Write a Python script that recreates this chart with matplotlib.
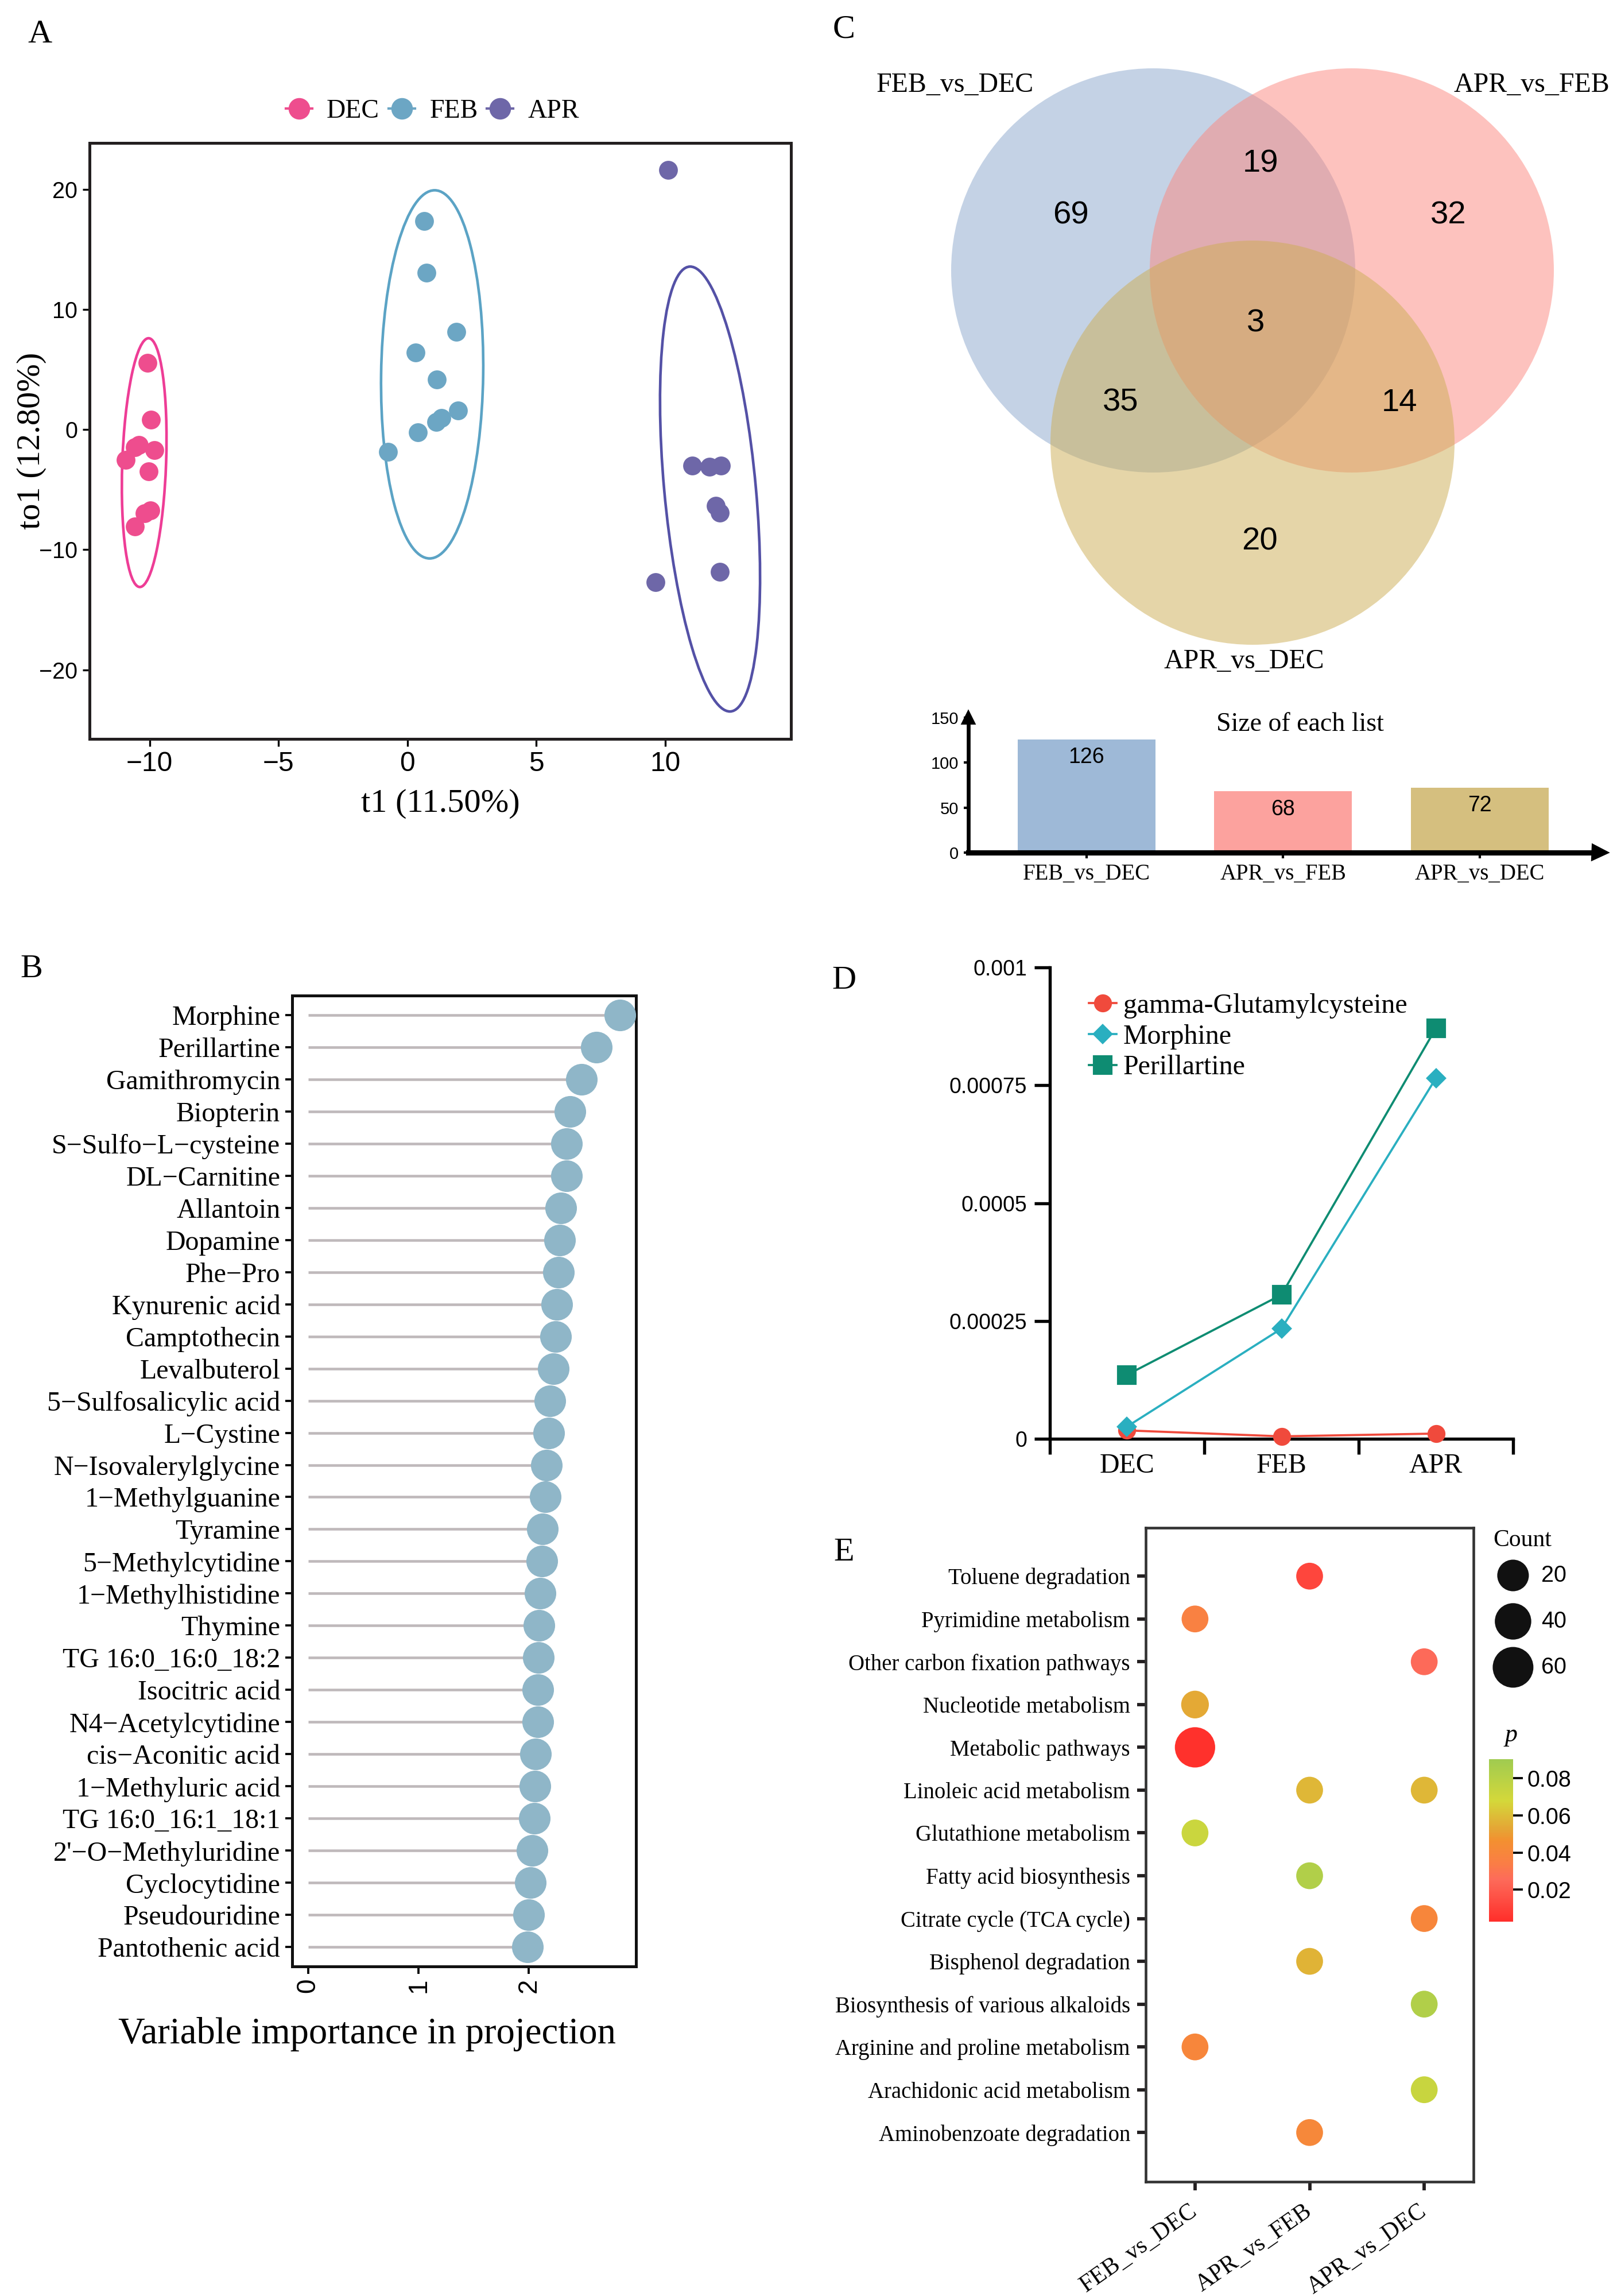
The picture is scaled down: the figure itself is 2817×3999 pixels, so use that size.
import numpy as np
import matplotlib
matplotlib.use('Agg')
import matplotlib.pyplot as plt
from matplotlib.patches import Ellipse, Circle
from matplotlib.lines import Line2D
from matplotlib.colors import LinearSegmentedColormap, Normalize
from matplotlib.cm import ScalarMappable

plt.rcParams['font.family'] = 'Liberation Serif'
SANS = 'Liberation Sans'

# ---------------- data ----------------
# A: OPLS-DA scores
dec_t1 = [-10.08, -9.94, -10.42, -10.58, -9.82, -10.92, -10.04, -9.98, -10.2, -10.56]
dec_to1 = [5.56, 0.83, -1.26, -1.46, -1.70, -2.52, -3.47, -6.71, -6.98, -8.09]
feb_t1 = [0.66, 0.74, 1.89, 0.32, 1.14, 1.97, 1.31, 1.12, 0.40, -0.76]
feb_to1 = [17.36, 13.06, 8.13, 6.43, 4.18, 1.58, 0.99, 0.63, -0.24, -1.85]
apr_t1 = [10.12, 11.06, 11.71, 12.17, 11.97, 12.11, 12.11, 9.62]
apr_to1 = [21.6, -3.0, -3.08, -3.0, -6.35, -6.94, -11.87, -12.70]
groups = ['DEC', 'FEB', 'APR']
group_colors = ['#EE4D8E', '#6CA6C4', '#6E67A8']
ellipse_colors = ['#EE3D96', '#5BA3C5', '#5451A6']
# confidence ellipses (centre, semi-axes, tilt in degrees)
ell_cx = [-10.21, 0.96, 11.74]
ell_cy = [-2.75, 4.6, -4.95]
ell_a = [10.36, 15.33, 18.54]
ell_b = [0.85, 1.98, 1.78]
ell_tilt = [-0.94, -0.37, 2.4]

# B: VIP
vip_names = ['Morphine', 'Perillartine', 'Gamithromycin', 'Biopterin', 'S\u2212Sulfo\u2212L\u2212cysteine',
             'DL\u2212Carnitine', 'Allantoin', 'Dopamine', 'Phe\u2212Pro', 'Kynurenic acid', 'Camptothecin',
             'Levalbuterol', '5\u2212Sulfosalicylic acid', 'L\u2212Cystine', 'N\u2212Isovalerylglycine',
             '1\u2212Methylguanine', 'Tyramine', '5\u2212Methylcytidine', '1\u2212Methylhistidine', 'Thymine',
             'TG 16:0_16:0_18:2', 'Isocitric acid', 'N4\u2212Acetylcytidine', 'cis\u2212Aconitic acid',
             '1\u2212Methyluric acid', 'TG 16:0_16:1_18:1', "2'\u2212O\u2212Methyluridine", 'Cyclocytidine',
             'Pseudouridine', 'Pantothenic acid']
vip_values = [2.825, 2.61, 2.475, 2.37, 2.34, 2.34, 2.29, 2.28, 2.27, 2.255, 2.24, 2.22, 2.19, 2.18, 2.16,
              2.15, 2.125, 2.12, 2.10, 2.09, 2.085, 2.08, 2.08, 2.06, 2.057, 2.05, 2.027, 2.015, 2.0, 1.99]

# C: Venn + list sizes
venn_sets = ['FEB_vs_DEC', 'APR_vs_FEB', 'APR_vs_DEC']
venn_regions = ['69', '19', '32', '3', '35', '14', '20']
list_sizes = [126, 68, 72]
list_colors = ['#9EB9D7', '#FCA29E', '#D5BF7F']

# D: relative abundance
months = ['DEC', 'FEB', 'APR']
gamma_glu = [0.0000178, 0.0000052, 0.0000111]
morphine = [0.000026, 0.0002337, 0.000765]
perillartine = [0.0001358, 0.0003056, 0.000871]

# E: KEGG enrichment
pathways = ['Toluene degradation', 'Pyrimidine metabolism', 'Other carbon fixation pathways',
            'Nucleotide metabolism', 'Metabolic pathways', 'Linoleic acid metabolism',
            'Glutathione metabolism', 'Fatty acid biosynthesis', 'Citrate cycle (TCA cycle)',
            'Bisphenol degradation', 'Biosynthesis of various alkaloids', 'Arginine and proline metabolism',
            'Arachidonic acid metabolism', 'Aminobenzoate degradation']
comparisons = ['FEB_vs_DEC', 'APR_vs_FEB', 'APR_vs_DEC']
enr_pathway = ['Toluene degradation', 'Pyrimidine metabolism', 'Other carbon fixation pathways',
               'Nucleotide metabolism', 'Metabolic pathways', 'Linoleic acid metabolism',
               'Linoleic acid metabolism', 'Glutathione metabolism', 'Fatty acid biosynthesis',
               'Citrate cycle (TCA cycle)', 'Bisphenol degradation', 'Biosynthesis of various alkaloids',
               'Arginine and proline metabolism', 'Arachidonic acid metabolism', 'Aminobenzoate degradation']
enr_group = ['APR_vs_FEB', 'FEB_vs_DEC', 'APR_vs_DEC', 'FEB_vs_DEC', 'FEB_vs_DEC', 'APR_vs_FEB',
             'APR_vs_DEC', 'FEB_vs_DEC', 'APR_vs_FEB', 'APR_vs_DEC', 'APR_vs_FEB', 'APR_vs_DEC',
             'FEB_vs_DEC', 'APR_vs_DEC', 'APR_vs_FEB']
enr_count = [3, 3, 3, 6, 58, 3, 3, 3, 3, 3, 3, 3, 3, 3, 3]
enr_p = [0.012, 0.036, 0.025, 0.054, 0.004, 0.058, 0.058, 0.072, 0.083, 0.040, 0.057, 0.083, 0.040,
         0.073, 0.041]
count_breaks = [20, 40, 60]

# ---------------- layout helpers ----------------
W, H = 2817, 3999
fig = plt.figure(figsize=(W / 300, H / 300), dpi=300)
fig.patch.set_facecolor('white')


def box(l, t, r, b):
    return [l / W, 1 - b / H, (r - l) / W, (b - t) / H]


def ftext(x, y, s, **kw):
    fig.text(x / W, 1 - y / H, s, **kw)


def dot_size(c):
    # area grows linearly with count
    d_px = np.sqrt(2030 + 50 * np.asarray(c, dtype=float))
    return (d_px * 72 / 300) ** 2


# ---------------- panel A ----------------
axA = fig.add_axes(box(156, 249, 1378, 1287))
xs = [dec_t1, feb_t1, apr_t1]
ys = [dec_to1, feb_to1, apr_to1]
for i in range(3):
    e = Ellipse((ell_cx[i], ell_cy[i]), 2 * ell_b[i], 2 * ell_a[i], angle=ell_tilt[i],
                fill=False, ec=ellipse_colors[i], lw=1.1, zorder=2)
    axA.add_patch(e)
    axA.scatter(xs[i], ys[i], s=62, color=group_colors[i], zorder=3, lw=0)
axA.set_xlim(-12.33, 14.88)
axA.set_ylim(-25.76, 23.87)
axA.set_xticks([-10, -5, 0, 5, 10])
axA.set_yticks([-20, -10, 0, 10, 20])
for lab in axA.get_xticklabels():
    lab.set_fontfamily(SANS)
    lab.set_fontsize(11.5)
for lab in axA.get_yticklabels():
    lab.set_fontfamily(SANS)
    lab.set_fontsize(9.5)
axA.tick_params(length=3, width=0.8, pad=2)
for sp in axA.spines.values():
    sp.set_linewidth(1.2)
    sp.set_color('#231F20')
axA.set_xlabel('t1 (11.50%)', fontsize=14, labelpad=5)
axA.set_ylabel('to1 (12.80%)', fontsize=14, labelpad=-3)
handles = [Line2D([0], [0], color=c, marker='o', markersize=8, lw=1) for c in group_colors]
axA.legend(handles, groups, loc='lower center', bbox_to_anchor=(0.489, 1.0), ncol=3, frameon=False,
           fontsize=11, handlelength=1.0, handletextpad=0.55, columnspacing=0.35, borderaxespad=0.35)

# ---------------- panel B ----------------
axB = fig.add_axes(box(509, 1734, 1108, 3425))
ypos = np.arange(len(vip_names))
axB.hlines(ypos, 0, vip_values, colors='#BFB9BB', lw=1.1, zorder=1)
axB.scatter(vip_values, ypos, s=175, color='#8FB6C8', lw=0, zorder=3, clip_on=False)
axB.set_xlim(-0.144, 2.97)
axB.set_ylim(len(vip_names) - 0.4, -0.6)
axB.set_yticks(ypos)
axB.set_yticklabels(vip_names, fontsize=11.5)
axB.set_xticks([0, 1, 2])
axB.set_xticklabels(['0', '1', '2'], rotation=90, fontfamily=SANS, fontsize=11)
axB.tick_params(length=3, width=0.9, pad=2)
for sp in axB.spines.values():
    sp.set_linewidth(1.2)
    sp.set_color('#111111')
ftext(640, 3543, 'Variable importance in projection', fontsize=15.5, ha='center', va='center')

# ---------------- panel C: Venn ----------------
vax = fig.add_axes(box(1600, 100, 2817, 1180))
vax.set_xlim(1600, 2817)
vax.set_ylim(1180, 100)
vax.axis('off')
venn_centers = [(2009, 471), (2355, 471), (2182, 771)]
venn_colors = ['#8BA7CD', '#FD877F', '#CDAD53']
venn_alpha = [0.5, 0.5, 0.5]
for c, col, al in zip(venn_centers, venn_colors, venn_alpha):
    vax.add_patch(Circle(c, 352, fc=col, ec='none', alpha=al))
region_pos = [(1865, 375), (2196, 285), (2523, 375), (2188, 563), (1952, 702), (2438, 702), (2194, 943)]
for s, p in zip(venn_regions, region_pos):
    vax.text(p[0], p[1], s, ha='center', va='center', fontsize=13.5, fontfamily=SANS)
set_pos = [(1664, 148), (2668, 148), (2167, 1152)]
for s, p in zip(venn_sets, set_pos):
    vax.text(p[0], p[1], s, ha='center', va='center', fontsize=11.5)

# size of each list
bax = fig.add_axes(box(1687, 1250, 2787, 1485))
bx = np.arange(len(list_sizes))
bax.bar(bx, list_sizes, width=0.7, color=list_colors)
for i, v in enumerate(list_sizes):
    bax.annotate(str(v), (i, v), xytext=(0, -7.5), textcoords='offset points', ha='center', va='center',
                 fontsize=9, fontfamily=SANS)
bax.set_xlim(-0.6, 2.61)
bax.set_ylim(0, 150)
bax.set_yticks([0, 50, 100, 150])
bax.set_yticklabels(['0', '50', '100', '150'], fontfamily=SANS, fontsize=7)
bax.set_xticks(bx)
bax.set_xticklabels(venn_sets, fontsize=9.3)
bax.tick_params(axis='y', length=2, width=1, pad=2)
bax.tick_params(axis='x', length=2.5, width=1, pad=2)
bax.spines['top'].set_visible(False)
bax.spines['right'].set_visible(False)
bax.spines['left'].set_linewidth(1.6)
bax.spines['bottom'].set_linewidth(2.2)
bax.plot(1, 0, '>', color='k', ms=6, transform=bax.transAxes, clip_on=False)
bax.plot(0, 1, '^', color='k', ms=5, transform=bax.transAxes, clip_on=False)
bax.set_facecolor('none')
ftext(2265, 1262, 'Size of each list', fontsize=11, ha='center', va='center')

# ---------------- panel D ----------------
axD = fig.add_axes(box(1829, 1685, 2636, 2506))
mx = np.arange(len(months))
axD.plot(mx, gamma_glu, color='#F04A3C', marker='o', ms=6.5, lw=0.9, clip_on=False,
         label='gamma-Glutamylcysteine', zorder=3)
axD.plot(mx, morphine, color='#2AAFC0', marker='D', ms=5, lw=0.9, clip_on=False, label='Morphine', zorder=3)
axD.plot(mx, perillartine, color='#0E8C72', marker='s', ms=7, lw=0.9, clip_on=False,
         label='Perillartine', zorder=3)
axD.set_xlim(-0.5, 2.5)
axD.set_ylim(0, 0.001)
axD.set_yticks([0, 0.00025, 0.0005, 0.00075, 0.001])
axD.set_yticklabels(['0', '0.00025', '0.0005', '0.00075', '0.001'], fontfamily=SANS, fontsize=9)
axD.set_xticks([-0.5, 0.5, 1.5, 2.5])
axD.set_xticklabels([])
axD.set_xticks(mx, minor=True)
axD.set_xticklabels(months, minor=True, fontsize=11.5)
axD.tick_params(axis='x', which='minor', length=0, pad=6)
axD.tick_params(axis='both', which='major', length=6.5, width=1.3, pad=3)
axD.spines['top'].set_visible(False)
axD.spines['right'].set_visible(False)
axD.spines['left'].set_linewidth(1.3)
axD.spines['bottom'].set_linewidth(1.3)
axD.legend(loc='upper left', bbox_to_anchor=(0.084, 0.945), frameon=False, fontsize=11.5,
           handlelength=1.0, handletextpad=0.25, labelspacing=0.2, borderaxespad=0, borderpad=0)

# ---------------- panel E ----------------
p_cmap = LinearSegmentedColormap.from_list('p', [(0.0, '#FF2E2A'), (0.26, '#FD6B5A'), (0.36, '#FA7E45'),
                                                 (0.50, '#F39030'), (0.57, '#E5A535'), (0.745, '#D4D83A'),
                                                 (1.0, '#A0CB50')])
p_norm = Normalize(vmin=0.0028, vmax=0.0902)
axE = fig.add_axes(box(1996, 2661, 2567, 3800))
ex = [comparisons.index(g) for g in enr_group]
ey = [pathways.index(p) for p in enr_pathway]
axE.scatter(ex, ey, s=dot_size(enr_count), c=enr_p, cmap=p_cmap, norm=p_norm, lw=0, zorder=3)
axE.set_xlim(-0.43, 2.43)
axE.set_ylim(len(pathways) - 1 + 1.15, -1.13)
axE.set_yticks(np.arange(len(pathways)))
axE.set_yticklabels(pathways, fontsize=9.3)
axE.set_xticks(np.arange(len(comparisons)))
axE.set_xticklabels(comparisons, fontsize=10, rotation=35, ha='right', va='center', rotation_mode='anchor')
axE.tick_params(length=3.5, width=1.4, pad=3, color='#231F20')
axE.tick_params(axis='x', pad=8)
for sp in axE.spines.values():
    sp.set_linewidth(1.1)
    sp.set_color('#333333')

# count legend
lax = fig.add_axes(box(2590, 2704, 2760, 2944))
lax.set_xlim(0, 1)
lax.set_ylim(2.5, -0.5)
lax.axis('off')
lax.scatter([0.27] * 3, range(3), s=dot_size(count_breaks), color='#111111', lw=0)
for i, c in enumerate(count_breaks):
    lax.text(0.56, i, str(c), va='center', ha='left', fontsize=9.5, fontfamily=SANS)
ftext(2601, 2683, 'Count', fontsize=10, ha='left', va='center')
ftext(2622, 3022, 'p', fontsize=10.5, style='italic', ha='left', va='center')

cax = fig.add_axes(box(2594, 3064, 2636, 3347))
cb = fig.colorbar(ScalarMappable(norm=p_norm, cmap=p_cmap), cax=cax)
cb.outline.set_visible(False)
cb.set_ticks([0.02, 0.04, 0.06, 0.08])
cb.set_ticklabels(['0.02', '0.04', '0.06', '0.08'])
cax.tick_params(length=4, width=0.9, pad=2, labelsize=9.5)
for lab in cax.get_yticklabels():
    lab.set_fontfamily(SANS)

# ---------------- panel letters ----------------
for s, x, y in [('A', 69, 60), ('B', 55, 1688), ('C', 1470, 52), ('D', 1470, 1708), ('E', 1470, 2704)]:
    ftext(x, y, s, fontsize=14, ha='center', va='center')

fig.savefig('out.png', dpi=300, facecolor='white')
